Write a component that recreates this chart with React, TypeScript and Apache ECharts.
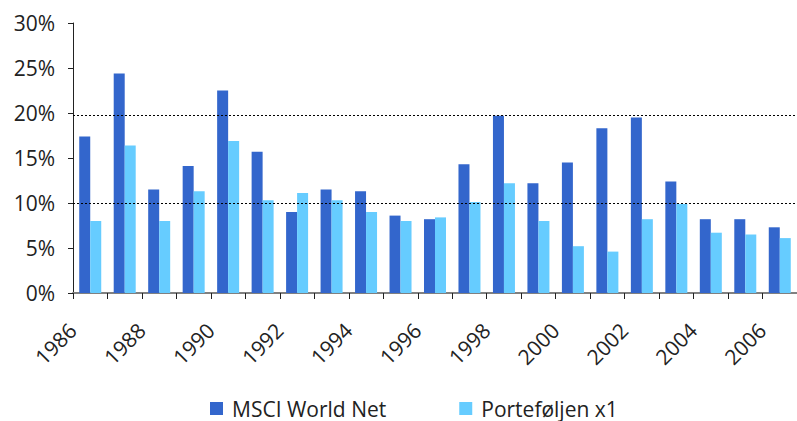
import React, { useEffect, useRef } from "react";
import * as echarts from "echarts";

const years = [
  "1986", "1987", "1988", "1989", "1990", "1991", "1992", "1993", "1994", "1995", "1996",
  "1997", "1998", "1999", "2000", "2001", "2002", "2003", "2004", "2005", "2006",
];
const msciWorldNet = [
  17.4, 24.4, 11.5, 14.1, 22.5, 15.7, 9.0, 11.5, 11.3, 8.6, 8.2,
  14.3, 19.7, 12.2, 14.5, 18.3, 19.5, 12.4, 8.2, 8.2, 7.3,
];
const portefoljen = [
  8.0, 16.4, 8.0, 11.3, 16.9, 10.3, 11.1, 10.3, 9.0, 8.0, 8.4,
  10.1, 12.2, 8.0, 5.2, 4.6, 8.2, 9.9, 6.7, 6.5, 6.1,
];
const referenceLines = [10, 19.7];
const seriesNames = ["MSCI World Net", "Porteføljen x1"];

const FONT = "'Open Sans', 'Noto Sans', sans-serif";

export default function App() {
  const ref = useRef<HTMLDivElement>(null);
  useEffect(() => {
    if (!ref.current) return;
    const chart = echarts.init(ref.current, undefined, { renderer: "svg" });
    chart.setOption({
      animation: false,
      backgroundColor: "#ffffff",
      grid: { left: 73, right: -8, top: 23, bottom: 128, containLabel: false },
      legend: {
        left: 205,
        top: 393,
        icon: "rect",
        itemWidth: 13,
        itemHeight: 13,
        itemGap: 73,
        textStyle: {
          fontFamily: FONT,
          fontSize: 21,
          color: "#222",
          padding: [0, 0, 0, 4],
        },
        data: seriesNames,
      },
      xAxis: {
        type: "category",
        data: years,
        axisLine: { show: true, lineStyle: { color: "#808080", width: 2 } },
        axisTick: { show: true, interval: 0, length: 6, lineStyle: { color: "#222" } },
        axisLabel: {
          interval: 1,
          rotate: 45,
          margin: 16,
          fontFamily: FONT,
          fontSize: 21,
          color: "#222",
          padding: [0, 25, 0, 0],
        },
      },
      yAxis: {
        type: "value",
        min: 0,
        max: 30,
        interval: 5,
        axisLine: { show: true, lineStyle: { color: "#222", width: 1 } },
        axisTick: { show: true, inside: false, length: 5, lineStyle: { color: "#222" } },
        splitLine: { show: false },
        axisLabel: {
          margin: 18,
          fontFamily: FONT,
          fontSize: 21,
          color: "#222",
          formatter: "{value}%",
        },
      },
      series: [
        {
          name: seriesNames[0],
          type: "bar",
          data: msciWorldNet,
          barWidth: 11,
          barGap: "0%",
          itemStyle: { color: "#3366CC" },
          markLine: {
            silent: true,
            symbol: "none",
            label: { show: false },
            lineStyle: { color: "#000", type: [2, 2], width: 1 },
            data: referenceLines.map((v) => ({ yAxis: v })),
          },
        },
        {
          name: seriesNames[1],
          type: "bar",
          data: portefoljen,
          barWidth: 11,
          barGap: "0%",
          itemStyle: { color: "#66CCFF" },
        },
      ],
    });
    return () => chart.dispose();
  }, []);
  return (
    <div
      ref={ref}
      style={{ position: "absolute", left: 0, top: 0, width: 797, height: 421, overflow: "hidden" }}
    />
  );
}
